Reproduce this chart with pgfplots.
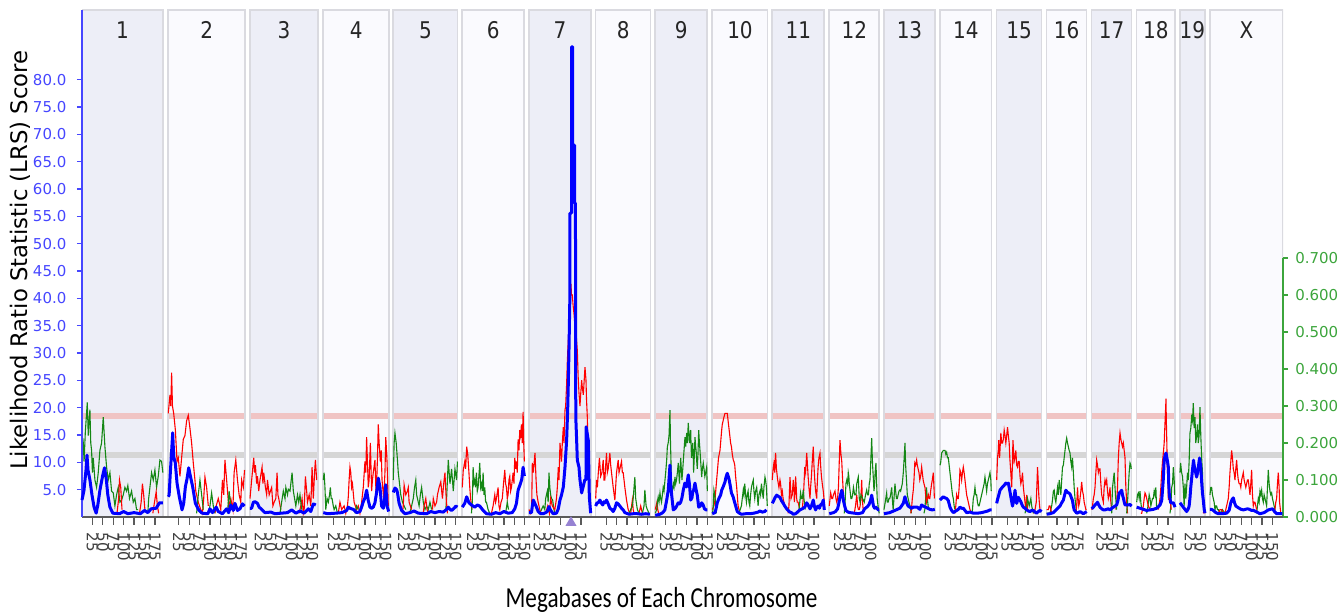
\documentclass[border=0pt]{standalone}
\usepackage{fontspec}
\setmainfont{DejaVu Sans}
\newfontfamily\carlito{Carlito}
\usepackage{pgfplots}
\pgfplotsset{compat=1.18}
\definecolor{lrsblue}{RGB}{0,0,255}
\definecolor{tickblue}{RGB}{70,70,255}
\definecolor{effred}{RGB}{255,0,0}
\definecolor{effgreen}{RGB}{20,135,20}
\definecolor{rgreen}{RGB}{60,165,60}
\definecolor{panelA}{RGB}{237,238,247}
\definecolor{panelB}{RGB}{250,250,254}
\definecolor{panelborder}{RGB}{218,218,224}
\definecolor{sigpink}{RGB}{240,196,196}
\definecolor{suggrey}{RGB}{214,214,214}
\definecolor{axgrey}{RGB}{90,90,90}
\definecolor{marker}{RGB}{150,130,210}
\pgfplotsset{
 base/.style={scale only axis, width=600.6pt, height=253.5pt, at={(0pt,0pt)}, anchor=south west, xmin=0, xmax=2883, unbounded coords=jump},
 sh/.style={x filter/.expression={x+#1}},
 bl/.style={draw=lrsblue, line width=1.5pt, line join=round, mark=none},
 rd/.style={draw=effred, line width=0.55pt, mark=none},
 gn/.style={draw=effgreen, line width=0.55pt, mark=none},
}
\newcommand{\panel}[5]{%
 \fill[#3] (axis cs:#1,0) rectangle (axis cs:#2,92.74);
 \draw[sigpink,line width=3pt] (axis cs:#1,18.5) -- (axis cs:#2,18.5);
 \draw[suggrey,line width=3pt] (axis cs:#1,11.3) -- (axis cs:#2,11.3);
 \draw[panelborder,line width=0.8pt] (axis cs:#1,0) rectangle (axis cs:#2,92.74);
 \node[font=\fontsize{10}{12}\selectfont, text=black!85, yscale=1.15] at (axis cs:#4,89.1) {#5};}
\begin{document}
\begin{tikzpicture}
\useasboundingbox (-41pt,-49pt) rectangle (628pt,258.5pt);
% ---------- background panels ----------
\begin{axis}[base, ymin=0, ymax=92.74, hide axis]
\panel{0}{194.4}{panelA}{97.2}{1}
\panel{207.1}{391.9}{panelB}{299.5}{2}
\panel{403.2}{566.4}{panelA}{484.8}{3}
\panel{579.1}{737.5}{panelB}{658.3}{4}
\panel{747.1}{901.7}{panelA}{824.4}{5}
\panel{912.7}{1061.5}{panelB}{987.1}{6}
\panel{1072.8}{1221.6}{panelA}{1147.2}{7}
\panel{1232.9}{1364.9}{panelB}{1298.9}{8}
\panel{1375.9}{1500.7}{panelA}{1438.3}{9}
\panel{1512.7}{1645.7}{panelB}{1579.2}{10}
\panel{1656.7}{1781.5}{panelA}{1719.1}{11}
\panel{1793.5}{1913.5}{panelB}{1853.5}{12}
\panel{1924.8}{2047.2}{panelA}{1986}{13}
\panel{2059.2}{2183.3}{panelB}{2121.2}{14}
\panel{2195.3}{2303.3}{panelA}{2249.3}{15}
\panel{2315.3}{2411.3}{panelB}{2363.3}{16}
\panel{2423.3}{2519.3}{panelA}{2471.3}{17}
\panel{2531.3}{2623.2}{panelB}{2577.2}{18}
\panel{2635.2}{2695.2}{panelA}{2665.2}{19}
\panel{2707.2}{2883}{panelB}{2795.1}{X}
\end{axis}
% ---------- additive effect (right axis) ----------
\begin{axis}[base, ymin=0, ymax=1.3703, clip=false,
 axis x line=none, xtick=\empty, axis y line*=right, y axis line style={draw=none},
 ytick={0,0.1,0.2,0.3,0.4,0.5,0.6,0.7},
 /pgf/number format/assume math mode=true,
 yticklabel style={font=\fontsize{7.5}{9}\selectfont, text=rgreen, /pgf/number format/.cd, fixed, fixed zerofill, precision=3},
 ytick style={rgreen, line width=0.6pt}, tick align=outside, major tick length=2.5pt]
% chr1
\addplot[gn,sh=0] coordinates {(0,0.18)(3,0.2)(5,0.15)(8,0.23)(12.7,0.31)(15,0.22)(19,0.29)(21,0.2)(23,0.18)(25,0.12)(27,0.16)(31,0.1)(35,0.08)(39,0.12)(43,0.18)(47,0.2)(51,0.27)(55,0.19)(59,0.135)(63,0.1)(67,0.12)(71,0.07)(75,0.065)(79,0.03)(83,0.06)(87,0.08)(91,0.04)(95,0.045)(99,0.06)(103,0.08)(107,0.07)(110,0.085)(114,0.05)(119,0.07)(123,0.04)(127,0.05)(131,0.02)(135,0.02)(136,nan)(158,0.01)(160,0.05)(164,0.09)(167,0.12)(171,0.1)(175,0.127)(179,0.08)(183,0.11)(187,0.154)(191,0.15)(194,0.12)};
\addplot[rd,sh=0] coordinates {(84,0.01)(88,0.05)(90,0.1)(93,0.08)(96,0.02)(97,nan)(138,0.01)(142,0.04)(145,0.09)(148,0.06)(151,0.02)(152,nan)(170,0.01)(174,0.04)(178,0.068)(181,0.03)(184,0.01)};
% chr2
\addplot[rd,sh=207.1] coordinates {(0,0.28)(4,0.33)(6,0.3)(8,0.39)(10,0.3)(13,0.28)(17,0.235)(21,0.15)(24,0.16)(28,0.11)(32,0.16)(36,0.21)(40,0.22)(44,0.26)(48,0.275)(52,0.24)(56,0.2)(60,0.146)(64,0.1)(66,0.07)(72,0.04)(78,0.02)(82,0.01)(85,0.05)(88,0.108)(92,0.08)(96,0.03)(97,nan)(112,0.01)(115,0.03)(120,0.05)(126,0.02)(130,0.1)(133,0.06)(136,0.154)(140,0.1)(145,0.03)(150,0.05)(155,0.02)(158,0.12)(162,0.154)(166,0.1)(170,0.06)(174,0.04)(176,0.1)(180,0.08)(183,0.127)};
\addplot[gn,sh=207.1] coordinates {(68,0.01)(72,0.06)(76,0.1)(80,0.06)(84,0.02)(85,nan)(96,0.01)(100,0.03)(104,0.065)(108,0.03)(112,0.01)(113,nan)(142,0.01)(146,0.07)(150,0.03)};
% chr3
\addplot[rd,sh=403.2] coordinates {(0,0.05)(4,0.1)(9,0.16)(11,0.12)(13,0.14)(16,0.09)(18,0.11)(21,0.07)(24,0.1)(29,0.135)(31,0.09)(33,0.12)(37,0.08)(40,0.06)(42,0.1)(46,0.06)(49,0.07)(52,0.08)(55,0.03)(58,0.04)(62,0.05)(65,0.12)(67,0.06)(69,0.05)(74,0.02)(75,nan)(118,0.01)(122,0.03)(125,0.05)(128,0.01)(130,0.02)(133,0.11)(136,0.07)(138,0.04)(142,0.06)(146,0.03)(149,0.135)(152,0.05)(155,0.12)(157,0.154)(160,0.1)};
\addplot[gn,sh=403.2] coordinates {(72,0.01)(76,0.04)(80,0.07)(84,0.05)(86,0.08)(90,0.06)(92,0.075)(96,0.07)(98,0.09)(101,0.12)(104,0.07)(107,0.05)(110,0.03)(114,0.06)(117,0.04)(120,0.06)(124,0.02)};
% chr4
\addplot[rd,sh=579.1] coordinates {(36,0.01)(40,0.04)(44,0.02)(50,0.03)(54,0.01)(58,0.03)(60,0.054)(62,0.1)(64,0.135)(66,0.12)(68,0.08)(70,0.09)(74,0.04)(80,0.02)(84,0.03)(88,0.01)(92,0.04)(96,0.08)(100,0.15)(102,0.12)(104,0.216)(106,0.15)(108,0.08)(110,0.1)(113,0.2)(116,0.07)(118,0.1)(120,0.12)(124,0.154)(127,0.05)(130,0.16)(132,0.25)(134,0.2)(137,0.15)(139,0.18)(141,0.1)(145,0.05)(148,0.12)(150,0.216)(153,0.15)(156,0.03)};
\addplot[gn,sh=579.1] coordinates {(0,0.1)(2,0.12)(4,0.08)(6,0.02)(9,0.05)(12,0.04)(15,0.06)(17,0.08)(19,0.05)(21,0.05)(24,0.03)(26,0.02)(30,0.03)(34,0.01)(35,nan)(76,0.01)(80,0.03)(84,0.02)};
% chr5
\addplot[gn,sh=747.1] coordinates {(0,0.1)(2,0.2)(4,0.227)(7,0.2)(10,0.154)(12,0.12)(14,0.1)(18,0.06)(22,0.04)(26,0.03)(30,0.02)(31,nan)(38,0.01)(42,0.02)(48,0.05)(51,0.08)(54,0.1)(56,0.06)(58,0.05)(62,0.03)(65,0.06)(68,0.08)(72,0.04)(76,0.02)(80,0.03)(84,0.02)(88,0.04)(92,0.02)(93,nan)(126,0.02)(128,0.05)(132,0.154)(136,0.09)(140,0.13)(144,0.07)(148,0.13)(152,0.1)(154,0.15)};
\addplot[rd,sh=747.1] coordinates {(22,0.01)(24,0.03)(26,0.087)(30,0.06)(34,0.07)(36,0.08)(38,0.04)(41,0.03)(44,0.02)(45,nan)(72,0.01)(74,0.03)(78,0.05)(81,0.02)(84,0.01)(85,nan)(94,0.02)(96,0.05)(100,0.03)(104,0.04)(106,0.06)(110,0.08)(114,0.095)(118,0.05)(121,0.09)(124,0.12)(127,0.05)(130,0.01)};
% chr6
\addplot[rd,sh=912.7] coordinates {(0,0.08)(2.4,0.127)(6,0.15)(8,0.13)(10.6,0.19)(13,0.17)(16,0.12)(18,0.08)(20,0.05)(23,0.02)(24,nan)(70,0.01)(74,0.03)(78,0.06)(80,0.04)(82,0.05)(86,0.08)(88,0.03)(90,0.02)(93,0.04)(96,0.05)(99,0.09)(102,0.127)(104,0.09)(106,0.08)(108,0.05)(110,0.06)(112,0.1)(114,0.11)(116,0.07)(118,0.08)(120,0.1)(122,0.12)(124,0.09)(126,0.16)(128,0.13)(130,0.15)(132,0.12)(134,0.21)(136,0.18)(138,0.235)(140,0.22)(142,0.25)(144,0.2)(146,0.284)(147.5,0.2)(149,0.15)};
\addplot[gn,sh=912.7] coordinates {(22,0.01)(24,0.04)(26,0.135)(28,0.09)(30,0.1)(32,0.08)(34,0.12)(36,0.07)(38,0.08)(42,0.146)(44,0.08)(46,0.09)(48,0.07)(50,0.12)(52,0.06)(54,0.08)(56,0.04)(58,0.04)(62,0.02)(66,0.01)(67,nan)(104,0.01)(108,0.04)(111,0.02)};
% chr7
\addplot[gn,sh=1072.8] coordinates {(26,0.01)(30,0.02)(34,0.03)(38,0.02)(40,0.05)(44,0.07)(46,0.04)(48,0.12)(50,0.08)(52,0.06)(54,0.05)(56.8,0.046)(60,0.02)(62,0.01)};
\addplot[rd,sh=1072.8] coordinates {(0,0.02)(4,0.01)(6.4,0.02)(8,0.146)(10.4,0.12)(14.4,0.173)(17,0.1)(19,0.06)(22,0.04)(26,0.02)(28,0.01)(29,nan)(40,0.01)(45,0.03)(49,0.01)(52,0.05)(56,0.03)(62,0.02)(66,0.05)(68,0.08)(70.4,0.135)(72,0.1)(74.4,0.2)(76,0.18)(78,0.15)(80,0.2)(82.4,0.243)(84,0.2)(86.4,0.289)(88,0.3)(90.4,0.36)(92,0.42)(94.4,0.48)(96,0.52)(98.4,0.55)(100.8,0.63)(102,0.6)(104,0.6)(106,0.57)(108,0.55)(110,0.52)(112.8,0.5)(116,0.45)(118,0.38)(120,0.335)(122.4,0.3)(124,0.33)(126.4,0.37)(128,0.35)(130.4,0.33)(132,0.36)(134.4,0.405)(136.8,0.37)(138,0.32)(140,0.27)(142.4,0.154)(144.8,0.05)(148,0.02)};
% chr8
\addplot[rd,sh=1232.9] coordinates {(0,0.05)(2,0.1)(4,0.08)(6.3,0.12)(9,0.16)(12,0.11)(15,0.12)(18,0.154)(20,0.1)(22,0.1)(24,0.14)(26,0.173)(28,0.12)(30,0.13)(34,0.173)(36,0.14)(38,0.12)(40,0.1)(42,0.08)(46,0.046)(50,0.12)(54,0.154)(56,0.12)(58,0.13)(62,0.15)(64,0.12)(66,0.12)(70,0.08)(74,0.046)(78,0.02)(82,0.01)(83,nan)(84,0.01)(88,0.046)(90,0.02)(92,0.01)(93,nan)(104,0.01)(108,0.03)(112,0.01)};
\addplot[gn,sh=1232.9] coordinates {(80,0.01)(84,0.02)(88,0.03)(90,0.05)(94,0.108)(96,0.05)(100,0.02)(104,0.01)(105,nan)(112,0.01)(116,0.03)(118,0.073)(121,0.03)(124,0.02)(128,0.01)};
% chr9
\addplot[rd,sh=1375.9] coordinates {(0,0.02)(2,0.03)(4,0.04)(6,0.02)(8,0.01)};
\addplot[gn,sh=1375.9] coordinates {(0,0.01)(3.4,0.02)(5,0.04)(7,0.054)(9,0.04)(11.3,0.065)(13,0.05)(15,0.04)(17,0.06)(19,0.08)(21,0.07)(23.3,0.1)(25,0.12)(27.4,0.154)(29,0.19)(31,0.2)(33,0.22)(35.3,0.289)(36.5,0.2)(37.5,0.16)(39.4,0.05)(41,0.07)(43.2,0.09)(45,0.08)(47.3,0.108)(49,0.09)(51,0.1)(53,0.12)(55.2,0.146)(57,0.11)(58,0.09)(60,0.14)(61,0.16)(63,0.12)(64,0.1)(66,0.13)(67.2,0.15)(69,0.18)(71.3,0.216)(73,0.19)(75.4,0.227)(77,0.2)(79.2,0.254)(81,0.22)(82,0.2)(83.5,0.22)(85,0.235)(86,0.19)(87,0.16)(88.5,0.18)(89.8,0.2)(91,0.17)(92,0.12)(93.5,0.16)(95.3,0.216)(97,0.19)(98,0.18)(99.5,0.15)(100.8,0.13)(102.5,0.17)(104.2,0.235)(106,0.2)(107.3,0.18)(109,0.15)(111.4,0.108)(113,0.13)(115.2,0.146)(117,0.13)(119,0.11)(121,0.12)(123.4,0.135)(125,0.07)};
% chr10
\addplot[rd,sh=1512.7] coordinates {(0,0.02)(4,0.03)(6.5,0.046)(9,0.08)(12,0.12)(15,0.16)(18.5,0.18)(20,0.2)(22.6,0.235)(24,0.25)(26.4,0.262)(28,0.27)(30.5,0.28)(33,0.28)(36,0.28)(38,0.26)(40,0.24)(42.5,0.216)(44,0.2)(46,0.19)(48,0.17)(50.4,0.154)(52,0.15)(54,0.14)(56,0.11)(58.6,0.08)(62,0.03)(66.5,0.01)};
\addplot[gn,sh=1512.7] coordinates {(0,0.01)(2,0.02)(4,0.073)(6,0.06)(8,0.04)(10,0.01)(11,nan)(64,0.01)(67,0.02)(70,0.03)(72,0.05)(74.4,0.073)(76,0.06)(78,0.09)(80,0.06)(82,0.04)(84,0.06)(86,0.07)(88,0.04)(90,0.03)(92,0.06)(94,0.08)(96,0.09)(98.4,0.1)(100,0.07)(102,0.05)(104,0.07)(106.6,0.08)(108,0.06)(110,0.03)(112,0.06)(114.5,0.07)(116,0.06)(118,0.09)(120,0.07)(122.4,0.05)(124,0.08)(126.5,0.108)(128,0.1)(130,0.08)(132,0.03)};
% chr11
\addplot[rd,sh=1656.7] coordinates {(0,0.1)(2,0.13)(4,0.146)(6,0.12)(8,0.173)(10,0.13)(13,0.1)(16,0.08)(18.5,0.1)(20,0.09)(22,0.06)(24,0.07)(26,0.05)(30,0.03)(34,0.02)(35,nan)(38,0.01)(40,0.03)(42.5,0.108)(44,0.08)(45,0.05)(48,0.06)(50.4,0.1)(52,0.08)(53,0.04)(55,0.07)(56,0.11)(57.5,0.08)(58.6,0.05)(60,0.04)(62,0.04)(64,0.03)(66,0.02)(67,nan)(72,0.02)(75,0.06)(78,0.135)(80,0.12)(82.6,0.173)(84,0.15)(86,0.11)(88,0.08)(90.5,0.05)(92,0.08)(94,0.11)(96,0.15)(98.4,0.19)(100,0.14)(102,0.1)(104,0.07)(106.6,0.05)(108,0.09)(110,0.135)(112,0.16)(114.5,0.173)(116,0.14)(118,0.11)(120,0.09)(122.4,0.07)(125,0.04)};
\addplot[gn,sh=1656.7] coordinates {(62,0.01)(64,0.02)(66,0.04)(68,0.065)(70,0.05)(72,0.05)(74.4,0.073)(76,0.05)(77,0.04)(79,0.02)};
% chr12
\addplot[rd,sh=1793.5] coordinates {(0,0.03)(3.4,0.065)(6,0.05)(8,0.05)(10,0.06)(13.7,0.07)(16,0.05)(18,0.04)(20,0.05)(22,0.08)(24,0.15)(25.7,0.208)(28,0.17)(30,0.15)(31.2,0.12)(33,0.08)(34,0.06)(36,0.03)(37.7,0.02)(38,nan)(60,0.01)(63,0.03)(66,0.06)(68,0.03)(70,0.02)(72,0.02)(74,0.03)(76,0.05)(77.8,0.1)(79,0.06)(80,0.04)(82,0.01)};
\addplot[gn,sh=1793.5] coordinates {(36,0.01)(38,0.04)(40,0.09)(42,0.1)(44,0.09)(45.6,0.12)(47,0.11)(48,0.09)(50,0.07)(52,0.05)(54,0.05)(56,0.06)(58,0.08)(61,0.06)(64,0.06)(66,0.09)(69.6,0.108)(72,0.05)(74,0.04)(76,0.06)(80,0.05)(84,0.04)(87,0.06)(89.8,0.073)(92,0.06)(94,0.06)(96,0.09)(97.7,0.1)(100,0.16)(101.8,0.213)(103,0.17)(104,0.14)(106,0.1)(107.3,0.07)(109,0.09)(110,0.12)(112,0.146)(113.5,0.1)(115,0.05)(118,0.02)(120,0.01)};
% chr13
\addplot[gn,sh=1924.8] coordinates {(0,0.02)(3,0.04)(6.4,0.065)(8,0.04)(10,0.04)(12,0.05)(14,0.05)(16,0.06)(18.5,0.08)(20,0.05)(22,0.02)(24,0.05)(26.4,0.09)(28,0.07)(30,0.05)(32,0.05)(34,0.06)(36,0.07)(38.4,0.073)(40,0.07)(42,0.08)(44,0.09)(46.4,0.12)(48,0.15)(50.4,0.2)(52,0.14)(53,0.12)(55,0.08)(56,0.06)(58,0.05)(60,0.04)(62.4,0.03)(64,0.02)(66,0.01)(67,nan)(96,0.01)(98,0.02)(100,0.05)(102,0.08)(104,0.05)(105,0.04)(107,0.02)};
\addplot[rd,sh=1924.8] coordinates {(64,0.01)(66,0.02)(68,0.05)(70.4,0.073)(72,0.1)(74,0.146)(76,0.14)(78.4,0.154)(80,0.14)(82,0.13)(84,0.12)(86,0.1)(88,0.11)(90.4,0.135)(92,0.12)(94,0.1)(96,0.09)(98.4,0.08)(100,0.06)(102,0.04)(104,0.05)(106.4,0.06)(108,0.05)(110,0.05)(112,0.07)(114.4,0.09)(116,0.1)(118.4,0.12)(120,0.08)(121,0.05)};
% chr14
\addplot[gn,sh=2059.2] coordinates {(0,0.14)(1.6,0.146)(4,0.173)(8,0.18)(12,0.18)(14,0.17)(16,0.175)(18,0.16)(20,0.16)(22,0.14)(24,0.12)(26,0.1)(28,0.08)(30,0.06)(32,0.05)(34,0.03)(36,0.02)(37,nan)(76,0.01)(78,0.02)(80,0.05)(82,0.06)(84,0.08)(86,0.06)(88,0.06)(90,0.04)(92,0.03)(94,0.03)(96,0.04)(98,0.05)(100,0.06)(102,0.07)(104,0.08)(106,0.09)(108,0.108)(110,0.09)(112,0.07)(114,0.09)(116,0.1)(118,0.11)(120,0.12)(122,0.1)(123,0.07)};
\addplot[rd,sh=2059.2] coordinates {(36,0.01)(38,0.03)(40,0.06)(42,0.05)(44,0.05)(46,0.08)(48,0.127)(50,0.12)(52,0.1)(54,0.12)(56,0.135)(58,0.12)(60,0.1)(62,0.08)(64,0.06)(66,0.05)(68,0.04)(70,0.03)(72,0.02)(76,0.01)};
% chr15
\addplot[rd,sh=2195.3] coordinates {(0,0.1)(2,0.16)(3.9,0.18)(5,0.208)(7,0.16)(10,0.227)(12,0.2)(14,0.2)(16,0.21)(18,0.235)(20,0.22)(22,0.2)(24,0.22)(26,0.243)(28,0.22)(30,0.2)(31.5,0.16)(33,0.135)(35,0.1)(36,0.08)(38,0.15)(39,0.208)(41,0.17)(42,0.15)(44,0.16)(46,0.18)(48,0.14)(50,0.135)(52,0.15)(54,0.15)(56,0.11)(58,0.09)(60,0.1)(62,0.12)(64,0.08)(66,0.06)(68,0.04)(70,0.02)(72,0.06)(74,0.02)(75,nan)(88,0.01)(92,0.02)(95,0.04)(97,0.1)(98,0.135)(100,0.09)(101,0.06)(103,0.03)(104,0.02)};
\addplot[gn,sh=2195.3] coordinates {(68,0.01)(70,0.02)(72,0.03)(74,0.05)(76,0.04)(78,0.03)(80,0.04)(82,0.05)(84,0.03)(86,0.02)(88,0.01)};
% chr16
\addplot[gn,sh=2315.3] coordinates {(0,0.01)(8,0.01)(12,0.03)(14,0.046)(16,0.07)(18,0.073)(20,0.05)(22,0.04)(24,0.06)(26,0.08)(28,0.06)(30,0.1)(32,0.08)(34,0.06)(36,0.1)(38,0.135)(40,0.14)(42,0.16)(44,0.18)(46,0.2)(48,0.213)(50,0.2)(52,0.19)(54,0.18)(56,0.173)(58,0.15)(60,0.135)(62,0.16)(64,0.12)(66,0.08)(68,0.05)(69,0.04)(72,0.01)};
\addplot[rd,sh=2315.3] coordinates {(0,0.02)(4,0.02)(6,0.03)(8,0.03)(10,0.02)(12,0.01)(13,nan)(70,0.01)(72,0.03)(74,0.08)(75.5,0.05)(77,0.03)(79,0.04)(80,0.05)(82,0.07)(84,0.095)(86,0.07)(88,0.06)(90,0.04)(92,0.03)(94,0.02)(96,0.02)};
% chr17
\addplot[rd,sh=2423.3] coordinates {(0,0.02)(2,0.03)(4,0.05)(6,0.06)(8,0.08)(10,0.12)(12,0.154)(14,0.14)(16,0.12)(18,0.13)(20,0.13)(22,0.09)(24,0.06)(26,0.05)(28,0.04)(30,0.08)(32,0.1)(34,0.09)(36,0.1)(38,0.07)(40,0.05)(42,0.06)(44,0.08)(46,0.04)(48,0.02)(49,nan)(58,0.02)(60,0.04)(62,0.08)(64,0.16)(66,0.2)(68,0.227)(70,0.21)(72,0.2)(74,0.19)(76,0.2)(78,0.18)(80,0.16)(82,0.08)(84,0.04)(86,0.01)};
\addplot[gn,sh=2423.3] coordinates {(48,0.01)(50,0.08)(52,0.1)(54,0.12)(56,0.08)(57,0.06)(60,0.02)(61,nan)(84,0.01)(86,0.04)(88,0.08)(90,0.12)(92,0.146)(94,0.14)(95,0.13)};
% chr18
\addplot[gn,sh=2531.3] coordinates {(0,0.04)(2,0.06)(4,0.065)(6,0.05)(8,0.07)(10,0.04)(12,0.02)(13,nan)(24,0.01)(26,0.02)(28,0.04)(30,0.06)(32,0.05)(34,0.03)(36,0.04)(38,0.05)(40,0.05)(42,0.07)(44,0.06)(46,0.08)(48,0.02)(49,nan)(80,0.01)(82,0.03)(84,0.08)(86,0.09)(88,0.135)(90,0.1)(91,0.06)};
\addplot[rd,sh=2531.3] coordinates {(10,0.01)(12,0.01)(16,0.03)(18,0.05)(20,0.065)(22,0.06)(24,0.05)(26,0.04)(28,0.03)(32,0.02)(33,nan)(52,0.02)(56,0.05)(58,0.08)(60,0.12)(62,0.15)(64,0.173)(66,0.2)(68,0.254)(70.4,0.32)(71,0.27)(72,0.22)(73.6,0.127)(75,0.1)(76,0.046)(78,0.1)(80,0.05)(83,0.02)};
% chr19
\addplot[gn,sh=2635.2] coordinates {(0,0.12)(1.6,0.146)(3,0.13)(4,0.12)(6,0.11)(8,0.08)(10,0.03)(12,0.09)(14,0.05)(16,0.08)(18,0.12)(20,0.1)(22,0.15)(24,0.227)(26,0.24)(28,0.27)(30,0.26)(32,0.308)(34,0.24)(36,0.27)(38,0.2)(40,0.22)(42,0.25)(44,0.2)(46,0.22)(48,0.297)(50,0.22)(52,0.16)(54,0.12)(55,0.07)(58,0.02)};
\addplot[rd,sh=2635.2] coordinates {(56,0.01)(58,0.02)(60,0.01)};
% chrX
\addplot[gn,sh=2707.2] coordinates {(0,0.06)(2,0.08)(4,0.08)(6,0.06)(8,0.05)(10,0.04)(12,0.02)(14,0.03)(16,0.03)(18,0.02)(20,0.02)(24,0.01)(30,0.02)(36,0.01)(37,nan)(112,0.01)(114,0.03)(116,0.05)(118,0.04)(120,0.07)(122,0.06)(124,0.073)(126,0.05)(128,0.04)(130,0.06)(132,0.05)(134,0.04)(136,0.03)(138,0.08)(140,0.127)(142,0.09)(144,0.07)(146,0.06)(148,0.065)(150,0.05)(152,0.04)(154,0.03)(156,0.02)};
\addplot[rd,sh=2707.2] coordinates {(20,0.01)(24,0.02)(28,0.02)(32,0.01)(36,0.01)(40,0.03)(44,0.05)(46,0.08)(48,0.12)(50,0.15)(52,0.18)(54,0.16)(56,0.13)(58,0.12)(60,0.1)(62,0.13)(64,0.154)(66,0.12)(68,0.1)(70,0.09)(72,0.09)(74,0.08)(76,0.1)(78,0.11)(80,0.12)(82,0.1)(84,0.09)(86,0.08)(88,0.09)(90,0.1)(92,0.1)(94,0.08)(96,0.06)(98,0.09)(100,0.127)(102,0.06)(104,0.03)(106,0.04)(108,0.04)(110,0.03)(112,0.02)(113,nan)(154,0.01)(156,0.02)(158,0.04)(160,0.05)(162,0.09)(164,0.12)(166,0.08)(167,0.04)(170,0.01)};
\draw[rgreen, line width=0.8pt] (axis cs:2883,0) -- (axis cs:2883,0.7);
\end{axis}
% ---------- LRS (left axis) ----------
\begin{axis}[base, ymin=0, ymax=92.74, clip=false,
 axis x line*=bottom, axis y line*=left,
 x axis line style={draw=axgrey, line width=1pt, -},
 y axis line style={draw=tickblue, line width=0.8pt, -},
 ytick={5,10,...,80},
 /pgf/number format/assume math mode=true,
 yticklabel style={font=\fontsize{7.5}{9}\selectfont, text=tickblue, /pgf/number format/.cd, fixed, fixed zerofill, precision=1},
 ytick style={tickblue, line width=0.6pt, /pgfplots/major tick length=2.5pt},
 tick align=outside,
 xtick={25,50,75,100,125,150,175,232.1,257.1,282.1,307.1,332.1,357.1,382.1,428.2,453.2,478.2,503.2,528.2,553.2,604.1,629.1,654.1,679.1,704.1,729.1,772.1,797.1,822.1,847.1,872.1,897.1,937.7,962.7,987.7,1012.7,1037.7,1062.7,1097.8,1122.8,1147.8,1172.8,1197.8,1257.9,1282.9,1307.9,1332.9,1357.9,1400.9,1425.9,1450.9,1475.9,1500.9,1537.7,1562.7,1587.7,1612.7,1637.7,1681.7,1706.7,1731.7,1756.7,1818.5,1843.5,1868.5,1893.5,1949.8,1974.8,1999.8,2024.8,2084.2,2109.2,2134.2,2159.2,2184.2,2220.3,2245.3,2270.3,2295.3,2340.3,2365.3,2390.3,2448.3,2473.3,2498.3,2556.3,2581.3,2606.3,2660.2,2685.2,2732.2,2757.2,2782.2,2807.2,2832.2,2857.2},
 xticklabels={25,50,75,100,125,150,175,25,50,75,100,125,150,175,25,50,75,100,125,150,25,50,75,100,125,150,25,50,75,100,125,150,25,50,75,100,125,150,25,50,75,100,125,25,50,75,100,125,25,50,75,100,125,25,50,75,100,125,25,50,75,100,25,50,75,100,25,50,75,100,25,50,75,100,125,25,50,75,100,25,50,75,25,50,75,25,50,75,25,50,25,50,75,100,125,150},
 xticklabel style={rotate=-90, anchor=west, font=\fontsize{7.5}{8}\selectfont, text=black!75},
 xtick style={axgrey, line width=0.6pt, /pgfplots/major tick length=4pt}]
\addplot[bl,sh=0] coordinates {(0,3.1)(4.8,4.9)(9.6,8.6)(12,11.3)(14.4,8.6)(19,6.8)(24,4)(29,1.8)(34,0.7)(38,2.2)(43,4.9)(50,7.7)(54,9)(58,7.1)(62,4)(67,1.8)(74,0.7)(90,0.6)(100,1)(110,0.6)(125,0.8)(140,0.6)(150,1.2)(158,0.8)(166,1.5)(178,1.6)(186,2.6)(194,2.6)};
\addplot[bl,sh=207.1] coordinates {(0,3.7)(2,4)(4.8,8)(8,12)(10.6,15.4)(13,11)(16.8,9.9)(21,6.2)(26.4,3.7)(33,1.3)(37,2.5)(41,5.5)(45,7)(49,9)(53,7.5)(58.6,5.5)(65,2.5)(73,1.3)(81,0.7)(95,0.6)(100,1.5)(106,0.8)(115,1.8)(120,1)(130,0.6)(140,1.5)(145,0.8)(150,2.2)(156,1.2)(160,2.5)(166,1.2)(172,1.5)(178,2.4)(183,2)};
\addplot[bl,sh=403.2] coordinates {(0,1.6)(4,1.6)(8,2.7)(12,2.8)(18,2.5)(22,1.8)(28,1.4)(36,0.8)(50,0.9)(60,0.6)(75,0.7)(90,0.8)(100,1.3)(110,0.7)(120,1.1)(130,0.7)(140,1.5)(146,1)(152,2.4)(158,2.2)};
\addplot[bl,sh=579.1] coordinates {(0,0.8)(10,0.6)(30,0.7)(45,0.8)(56,1.2)(60,1.8)(64,1.6)(72,1.4)(80,0.8)(88,1)(92,1.8)(96,2.8)(100,3.5)(104,4.9)(108,3)(112,1.8)(116,1.6)(120,1.8)(124,2.6)(128,4.5)(132,7.1)(136,5.5)(140,2)(144,1.6)(147,3)(150,5.9)(153,2)(157,1)};
\addplot[bl,sh=747.1] coordinates {(0,4.5)(4,5.3)(8,5)(10,4.5)(14,2.5)(20,1.2)(28,0.6)(40,0.8)(50,1.1)(60,0.7)(80,0.6)(90,1)(100,0.8)(110,1)(120,0.9)(128,1.4)(132,1.8)(136,1.4)(140,1.2)(146,1.6)(150,2)(154,1.8)};
\addplot[bl,sh=912.7] coordinates {(0,1.8)(6,2.5)(10.6,3.7)(16,2.6)(22,2.2)(30,1.8)(36,2.2)(42,2)(50,1.2)(58,0.6)(70,0.5)(80,0.8)(90,0.6)(100,1)(110,0.7)(120,0.8)(126,1.5)(130,2.5)(134,4.9)(140,6.2)(143,7)(146,9.1)(149,7.5)};
\addplot[bl,sh=1072.8] coordinates {(0,0.8)(6,0.8)(8,2)(10.4,3.1)(14,2.5)(18,1.8)(22,1)(28,0.6)(34,0.6)(40,0.8)(44,1)(48,1.9)(52,1.2)(58,0.6)(66,0.7)(70.4,1.5)(74.4,3.1)(78,4)(82.4,5.5)(86.4,9.1)(90.4,14.1)(93,20)(94.4,24.5)(96,30.5)(98,39.7)(98.4,55.6)(102.2,55.6)(102.4,86)(104.8,86)(104.8,68)(109.4,68)(109.6,57.4)(111.5,57.4)(112.3,18.3)(114.4,14)(116,10.4)(120,9.1)(122.4,6.8)(126.4,4.4)(130,5.5)(134,6.8)(136.8,6.8)(137.2,16.5)(142.4,14)(144.8,3.7)(148,0.7)};
\addplot[bl,sh=1232.9] coordinates {(0,2)(3,2.6)(6,2.6)(10,3.1)(14,2.5)(17,2.2)(20,2.8)(23,2.6)(26,3.1)(30,2.4)(34,1.6)(38,1.4)(42,1)(46,1.6)(50,2.6)(54,2.4)(58,2)(62,1.6)(66,1.3)(70,0.8)(80,0.5)(90,0.6)(100,0.6)(110,0.5)(120,0.6)(130,0.5)};
\addplot[bl,sh=1375.9] coordinates {(0,0.3)(11,0.5)(18,0.8)(23,1.3)(27.4,3.1)(31.2,4.9)(35.3,9.5)(37,6)(39.4,4)(43.2,1.3)(47,1.5)(50,1.8)(55.2,2.6)(58,2.4)(61,2.7)(64,3.5)(67.2,4.9)(71,6.2)(75,5.5)(79.2,7.7)(82,6)(85,3.1)(88,3.5)(89.8,4.5)(92,4.9)(95.3,6.2)(98,5)(100.8,4)(104.2,1.8)(108,2)(111.4,2.6)(115,2.2)(118,1.5)(122,1.3)(125,1.3)};
\addplot[bl,sh=1512.7] coordinates {(0,0.6)(6.5,0.8)(9,1.5)(12,2.6)(16,3.4)(20,4)(22.6,4.9)(26,5.5)(30.5,6.4)(33,7.3)(36,8)(40,7)(43,5.8)(46,4.4)(50,3.7)(54,2.6)(57,1.8)(60,1)(65,0.7)(70,0.5)(80,0.6)(90,0.6)(100,0.7)(110,0.9)(114,1.1)(120,0.9)(126,1)(130,1.3)};
\addplot[bl,sh=1656.7] coordinates {(0,2.5)(4,3.1)(7,3.6)(10.6,4)(14,3.8)(18.5,3.6)(22,3)(26.4,2.5)(30,2)(34.6,1.5)(38,1.2)(42.5,0.9)(46,0.8)(50.4,0.5)(56,0.6)(62,1)(66.5,1.3)(72,1.5)(78,1.8)(82.6,2.6)(86,2.2)(90.5,1.5)(94,2)(98.4,3.1)(101,2)(104,1.3)(107,1.8)(110,2)(113,1.6)(116,2.2)(120,2.5)(122.4,3.1)(125,1.3)};
\addplot[bl,sh=1793.5] coordinates {(0,0.6)(5,0.7)(10,0.8)(15,1)(20,1.5)(23,2.5)(25.7,3.7)(28,4.3)(30,4.9)(32,4.2)(34,3)(37,2)(40,1.2)(45,0.9)(50,0.8)(60,0.7)(70,0.6)(80,0.8)(85,1.5)(90,1.8)(95,2.2)(99,3)(101.8,4)(104,3)(106,2)(109,1.6)(112,1.8)(115,1.5)(118,1.3)(120,1.3)};
\addplot[bl,sh=1924.8] coordinates {(0,0.6)(7,0.7)(14,0.8)(20,1)(26,1.2)(32,1.4)(38,1.6)(42,2)(46.4,2.5)(50.4,3.7)(52,3.2)(54.4,2.6)(58,2)(62,1.8)(66,1.6)(70.4,1.8)(75,1.8)(80,1.8)(86,1.4)(88,1.8)(90.4,2.2)(94,2)(100,1.8)(105,1.6)(110,1.4)(116,1.3)(122,1.4)};
\addplot[bl,sh=2059.2] coordinates {(0,3.1)(4,3.4)(8,3.7)(12,3.5)(16,3.4)(20,3)(24,1.8)(28,1.2)(32,0.8)(36,1)(40,1.2)(44,1.4)(48,1.8)(52,1.6)(56,1.6)(60,1.2)(64,0.8)(72,0.9)(80,0.7)(90,0.7)(100,0.8)(105,0.9)(110,1)(115,1.1)(120,1.3)(124,1.3)};
\addplot[bl,sh=2195.3] coordinates {(0,2.5)(2,3.2)(3.9,3.7)(6,4.3)(8,4.9)(11,5.2)(14,5.5)(18,5.8)(22,6.2)(25,6)(28,6.2)(31,5)(34,3.7)(36,2.8)(38,2)(41,3)(44,4.9)(46,3.5)(48,2.5)(50,3)(52,3.6)(55,3.2)(58,2.8)(61,2.2)(64,1.8)(68,1.6)(72,1.3)(76,1.1)(80,1)(84,1.2)(88,1.2)(92,0.9)(96,0.7)(100,1)(104,1.2)(108,1)};
\addplot[bl,sh=2315.3] coordinates {(0,0.5)(8,0.6)(16,0.8)(24,1.4)(32,2)(36,2.6)(40,3.1)(43,4)(46,4.9)(50,4.5)(53,4.4)(56,4.2)(59,3.6)(62,3)(64,2)(66,1.3)(70,0.9)(72,0.7)(76,0.8)(80,1)(84,0.8)(88,0.6)(92,0.8)(96,1)};
\addplot[bl,sh=2423.3] coordinates {(0,1.5)(4,1.8)(8,2.2)(11,2.4)(14,2.7)(17,2.2)(20,1.8)(24,1.5)(28,1.3)(32,1.3)(36,1.4)(40,1.5)(44,1.3)(48,1.6)(52,1.8)(56,2)(60,2.2)(63,3)(66,4.4)(69,4.6)(72,4.9)(74,4)(76,3.5)(78,2.8)(80,2.2)(84,2.2)(88,2.2)(92,2.3)(96,2)};
\addplot[bl,sh=2531.3] coordinates {(0,1.8)(8,1.6)(16,1.4)(24,1.2)(32,1.3)(40,1.4)(48,1.6)(56,2.2)(60,3)(62,4.9)(64,7)(66,10.4)(68,11.2)(70.4,11.7)(72,11)(73.6,10.4)(76,9.1)(77,6)(78.4,4)(81.6,2.6)(84,2.6)(88,2.6)(92,1.8)};
\addplot[bl,sh=2635.2] coordinates {(0,2.6)(4,2.2)(8,1.8)(12,1.4)(16,1)(20,1.5)(22,2)(24,3.5)(26,5.5)(28,7)(30,8.6)(32.5,10.4)(34,9.5)(36,8.6)(38,8)(40,7.3)(42,8)(44,9.1)(47,10.8)(50,9.1)(52,6.5)(54,4.4)(56,3.1)(58,1.5)(60,0.7)};
\addplot[bl,sh=2707.2] coordinates {(0,1.4)(4,1.4)(8,1.2)(14,0.8)(20,0.6)(30,0.6)(40,0.7)(46,1.2)(50,2.6)(53,3.2)(56,3.5)(59,2.6)(62,2)(66,1.8)(70,1.6)(75,1.4)(80,1.3)(85,1.4)(90,1.5)(95,1.4)(100,1.2)(105,1.2)(110,1)(115,0.8)(120,0.6)(130,0.8)(140,1.3)(145,1.4)(150,1.5)(155,1)(160,0.6)(170,0.6)(174,0.6)};
\addplot[only marks, mark=triangle*, mark size=2.8pt, mark options={fill=marker, draw=marker}] coordinates {(1173.6,-1.05)};
\end{axis}
\node[rotate=90, anchor=base, font=\fontsize{11.4}{13}\selectfont] at (-27pt,128.5pt) {Likelihood Ratio Statistic (LRS) Score};
\node[anchor=base, font=\carlito\fontsize{11.6}{14}\selectfont, yscale=1.25] at (289.75pt,-45.5pt) {Megabases of Each Chromosome};
\end{tikzpicture}
\end{document}
